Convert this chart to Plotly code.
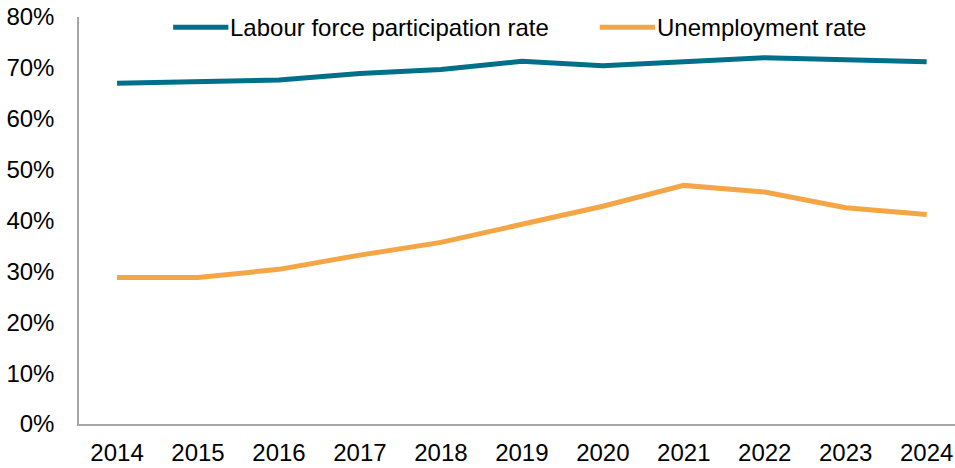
import plotly.graph_objects as go

# Annual series, percent
years = ["2014", "2015", "2016", "2017", "2018", "2019", "2020", "2021", "2022", "2023", "2024"]
participation = [67.0, 67.2, 67.6, 68.9, 69.7, 71.3, 70.4, 71.2, 72.0, 71.6, 71.2]
unemployment = [28.8, 28.8, 30.4, 33.2, 35.7, 39.3, 42.8, 46.9, 45.6, 42.5, 41.2]

series_names = ["Labour force participation rate", "Unemployment rate"]
series_colors = ["#00708A", "#F4A546"]
series_values = [participation, unemployment]

FONT = "Liberation Sans, Arial, sans-serif"

fig = go.Figure()
for name, color, vals in zip(series_names, series_colors, series_values):
    fig.add_trace(go.Scatter(
        x=years, y=vals, name=name, mode="lines",
        line=dict(color=color, width=5),
        showlegend=False,
    ))

# Legend drawn as line samples + labels above the series
legend_items = [(0.1075, series_names[0], series_colors[0]),
                (0.5945, series_names[1], series_colors[1])]
for x0, name, color in legend_items:
    fig.add_shape(type="line", xref="paper", yref="paper",
                  x0=x0, x1=x0 + 0.063, y0=0.975, y1=0.975,
                  line=dict(color=color, width=5))
    fig.add_annotation(xref="paper", yref="paper", x=x0 + 0.066, y=0.975,
                       text=name, showarrow=False, xanchor="left", yanchor="middle",
                       xshift=-3,
                       font=dict(family=FONT, size=24, color="#000000"))

fig.update_layout(
    width=955, height=468,
    margin=dict(l=79, r=0, t=17, b=44),
    paper_bgcolor="white", plot_bgcolor="white",
    font=dict(family=FONT, size=24, color="#000000"),
)
fig.update_xaxes(
    type="category", range=[-0.47, 10.35],
    showgrid=False, showline=True, linecolor="#A6A6A6", linewidth=1.5,
    ticks="", ticklabelstandoff=6,
)
fig.update_yaxes(
    range=[0, 80], dtick=10, ticksuffix="%",
    showgrid=False, zeroline=False, showline=True, linecolor="#A6A6A6", linewidth=1.5,
    ticks="", ticklabelstandoff=18,
)

fig.write_html("out.html")
